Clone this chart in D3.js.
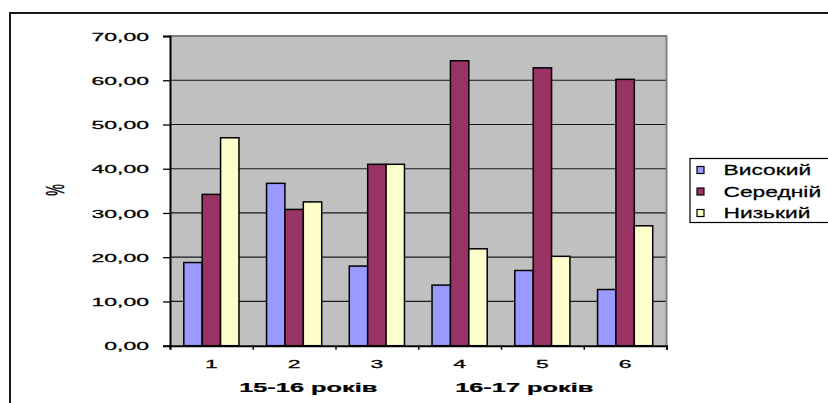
<!DOCTYPE html>
<html>
<head>
<meta charset="utf-8">
<script src="https://cdn.jsdelivr.net/npm/d3@7"></script>
<style>
  body { margin: 0; background: #fff; }
  svg { display: block; font-family: Arial, "Liberation Sans", sans-serif; }
  text { stroke: #000; stroke-width: 0.25px; }
</style>
</head>
<body>
<svg id="chart" width="828" height="403"></svg>
<script>
// Категорії (номери вибірок) та значення рівнів, %
const categories = ["1", "2", "3", "4", "5", "6"];
const seriesNames = ["Високий", "Середній", "Низький"];
const highValues = [18.8, 36.7, 18.0, 13.7, 17.0, 12.7];
const midValues  = [34.2, 30.8, 41.0, 64.4, 62.8, 60.2];
const lowValues  = [47.0, 32.5, 41.0, 21.9, 20.2, 27.1];
const yTicks = [0, 10, 20, 30, 40, 50, 60, 70];
const groupTitles = ["15-16 років", "16-17 років"];
const yTitle = "%";
const seriesColors = ["#9999FF", "#993366", "#FFFFCC"];

const series = [highValues, midValues, lowValues];

const svg = d3.select("#chart");

// Plot area bounds
const plot = { left: 170, top: 36, right: 666.5, bottom: 345.7 };

const x = d3.scaleBand().domain(categories).range([plot.left, plot.right]).padding(0);
const y = d3.scaleLinear().domain([0, 70]).range([plot.bottom, plot.top]);

// Excel-like clustering: gap width 150% of a bar
const barW = x.bandwidth() / (series.length + 1.5);
const xs = d3.scaleBand().domain(d3.range(series.length))
  .range([0.75 * barW, 0.75 * barW + barW * series.length]).padding(0);

const locale = d3.formatLocale({ decimal: ",", thousands: " ", grouping: [3], currency: ["", ""] });
const fmt = locale.format(".2f");

// Horizontally stretched text
function stretched(parent, tx, ty, sx, text) {
  return parent.append("text")
    .attr("transform", `translate(${tx},${ty}) scale(${sx},1)`)
    .text(text);
}

// Outer chart frame
svg.append("rect")
  .attr("x", 10).attr("y", 13).attr("width", 840).attr("height", 420)
  .attr("fill", "none").attr("stroke", "#000").attr("stroke-width", 1.8);

// Plot background
svg.append("rect")
  .attr("x", plot.left).attr("y", plot.top)
  .attr("width", plot.right - plot.left).attr("height", plot.bottom - plot.top)
  .attr("fill", "#C0C0C0");

// Gridlines
svg.append("g").selectAll("line")
  .data(yTicks.filter(t => t > 0 && t < 70))
  .join("line")
  .attr("x1", plot.left).attr("x2", plot.right)
  .attr("y1", d => y(d)).attr("y2", d => y(d))
  .attr("stroke", "#1a1a1a").attr("stroke-width", 1.2);

// Top and right plot border
svg.append("path")
  .attr("d", `M${plot.left},${plot.top}H${plot.right}V${plot.bottom}`)
  .attr("fill", "none").attr("stroke", "#808080").attr("stroke-width", 2);

// Bars
const groups = svg.append("g").selectAll("g")
  .data(categories)
  .join("g")
  .attr("transform", d => `translate(${x(d)},0)`);

groups.selectAll("rect")
  .data((c, i) => series.map((s, k) => ({ k, v: s[i] })))
  .join("rect")
  .attr("x", d => xs(d.k))
  .attr("width", barW)
  .attr("y", d => y(d.v))
  .attr("height", d => y(0) - y(d.v))
  .attr("fill", d => seriesColors[d.k])
  .attr("stroke", "#000").attr("stroke-width", 1.5);

// Y axis
const yAxis = svg.append("g")
  .attr("transform", `translate(${plot.left},0)`)
  .call(d3.axisLeft(y).tickValues(yTicks).tickSize(7).tickFormat(fmt));
yAxis.select(".domain").attr("stroke", "#000").attr("stroke-width", 2);
yAxis.selectAll(".tick line").attr("stroke", "#000").attr("stroke-width", 1.3);
yAxis.selectAll(".tick text")
  .attr("font-size", 11.5).attr("fill", "#000")
  .attr("x", -21 / 2).attr("dy", "0.36em")
  .attr("transform", "scale(2,1)");

// X axis: tick marks at category boundaries
const xEdges = d3.scaleLinear().domain([0, categories.length]).range([plot.left, plot.right]);
const xAxis = svg.append("g")
  .attr("transform", `translate(0,${plot.bottom})`)
  .call(d3.axisBottom(xEdges).ticks(categories.length).tickSize(4).tickFormat(""));
xAxis.select(".domain").attr("stroke", "#000").attr("stroke-width", 2);
xAxis.selectAll(".tick line").attr("stroke", "#000").attr("stroke-width", 1.5);

// Category labels at band centres
const xLabels = svg.append("g")
  .attr("transform", `translate(0,${plot.bottom})`)
  .call(d3.axisBottom(x).tickSize(0));
xLabels.select(".domain").remove();
xLabels.selectAll(".tick text")
  .attr("font-size", 11.5).attr("fill", "#000")
  .attr("y", 18.5).attr("dy", "0.36em")
  .attr("transform", "scale(2,1)")
  .attr("x", 0);

// Axis titles
const midX = (plot.left + plot.right) / 2;
const titleG = svg.append("g")
  .attr("font-size", 13.5).attr("font-weight", "bold").attr("text-anchor", "middle");
groupTitles.forEach((t, i) => {
  stretched(titleG, midX + (i === 0 ? -110 : 106), 391.5, 1.88, t);
});

svg.append("text")
  .attr("transform", "translate(64,190) scale(2,1) rotate(-90)")
  .attr("text-anchor", "middle")
  .attr("font-size", 13)
  .text(yTitle);

// Legend
const legend = svg.append("g").attr("transform", "translate(690,158.5)");
legend.append("rect")
  .attr("width", 150).attr("height", 64)
  .attr("fill", "#fff").attr("stroke", "#000").attr("stroke-width", 1.2);
const rows = legend.selectAll("g.row")
  .data(seriesNames)
  .join("g").attr("class", "row")
  .attr("transform", (d, i) => `translate(0,${11.5 + i * 21.5})`);
rows.append("rect")
  .attr("x", 7).attr("y", -3.5).attr("width", 7).attr("height", 7)
  .attr("fill", (d, i) => seriesColors[i])
  .attr("stroke", "#000").attr("stroke-width", 1.2);
rows.append("text")
  .attr("transform", "translate(33.5,0) scale(1.52,1)")
  .attr("dy", "0.36em")
  .attr("font-size", 15)
  .text(d => d);
</script>
</body>
</html>
